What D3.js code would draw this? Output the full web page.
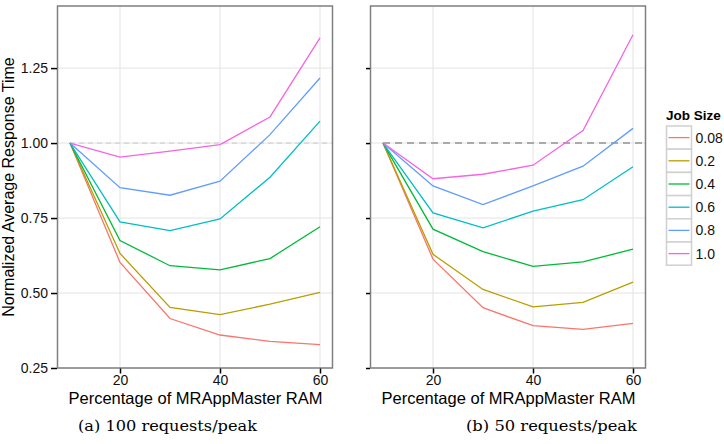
<!DOCTYPE html>
<html><head><meta charset="utf-8">
<script src="https://cdn.jsdelivr.net/npm/d3@7"></script>
<style>body{margin:0;background:#fff}svg{display:block}</style>
</head><body>
<svg id="c" width="724" height="444"></svg>
<script>
const xs = [10, 20, 30, 40, 50, 60];
const jobSizes = ["0.08", "0.2", "0.4", "0.6", "0.8", "1.0"];
const colors = ["#F8766D", "#B79F00", "#00BA38", "#00BFC4", "#619CFF", "#F564E3"];
// panel (a) 100 requests/peak
const a_008 = [1.0, 0.602, 0.415, 0.360, 0.339, 0.328];
const a_02  = [1.0, 0.632, 0.452, 0.428, 0.463, 0.502];
const a_04  = [1.0, 0.675, 0.591, 0.577, 0.615, 0.721];
const a_06  = [1.0, 0.737, 0.708, 0.747, 0.886, 1.073];
const a_08  = [1.0, 0.851, 0.826, 0.873, 1.028, 1.217];
const a_10  = [1.0, 0.953, 0.973, 0.995, 1.087, 1.351];
// panel (b) 50 requests/peak
const b_008 = [1.0, 0.613, 0.451, 0.391, 0.379, 0.399];
const b_02  = [1.0, 0.629, 0.512, 0.454, 0.469, 0.536];
const b_04  = [1.0, 0.713, 0.638, 0.589, 0.604, 0.646];
const b_06  = [1.0, 0.767, 0.717, 0.773, 0.811, 0.921];
const b_08  = [1.0, 0.857, 0.795, 0.857, 0.923, 1.049];
const b_10  = [1.0, 0.881, 0.896, 0.926, 1.042, 1.361];
const xTicks = [20, 40, 60];
const yTicks = [0.25, 0.50, 0.75, 1.00, 1.25];
const captions = ["(a) 100 requests/peak", "(b) 50 requests/peak"];
const xTitle = "Percentage of MRAppMaster RAM";
const yTitle = "Normalized Average Response Time";
const legendTitle = "Job Size";

const panels = [
  {series: [a_008, a_02, a_04, a_06, a_08, a_10], left: 57.5, caption: captions[0], capX: 167.5, capW: 179, labels: true, dashW: 1, dashC: "#c8c8c8", dash: "5,4"},
  {series: [b_008, b_02, b_04, b_06, b_08, b_10], left: 370.5, caption: captions[1], capX: 551.5, capW: 171, labels: false, dashW: 2, dashC: "#aaaaaa", dash: "7,5"}
];
const W = 275, topY = 6, bottomY = 368;
const svg = d3.select("#c");
const font = "'Liberation Sans', Arial, sans-serif";

const y = d3.scaleLinear().domain([0.25, 1.457]).range([bottomY, topY]);

panels.forEach(p => {
  const x = d3.scaleLinear().domain([7.5, 62.5]).range([p.left, p.left + W]);
  const g = svg.append("g");
  // gridlines
  g.selectAll(".gy").data(yTicks).join("line")
    .attr("x1", p.left).attr("x2", p.left + W)
    .attr("y1", d => y(d)).attr("y2", d => y(d))
    .attr("stroke", "#e3e3e3").attr("stroke-width", 1);
  g.selectAll(".gx").data(xTicks).join("line")
    .attr("x1", d => x(d)).attr("x2", d => x(d))
    .attr("y1", topY).attr("y2", bottomY)
    .attr("stroke", "#e3e3e3").attr("stroke-width", 1);
  // reference line
  g.append("line").attr("x1", x(10)).attr("x2", p.left + W)
    .attr("y1", y(1)).attr("y2", y(1))
    .attr("stroke", p.dashC).attr("stroke-width", p.dashW).attr("stroke-dasharray", p.dash);
  // lines
  const line = d3.line().x((d, i) => x(xs[i])).y(d => y(d));
  p.series.forEach((s, k) => {
    g.append("path").datum(s).attr("d", line).attr("fill", "none")
      .attr("stroke", colors[k]).attr("stroke-width", 1.3);
  });
  // border
  g.append("rect").attr("x", p.left).attr("y", topY).attr("width", W).attr("height", bottomY - topY)
    .attr("fill", "none").attr("stroke", "#7f7f7f").attr("stroke-width", 1.5);
  // x axis
  const xa = g.append("g").attr("transform", `translate(0,${bottomY + 0.5})`)
    .call(d3.axisBottom(x).tickValues(xTicks).tickSize(5).tickPadding(2).tickFormat(d3.format("d")));
  xa.select(".domain").remove();
  xa.selectAll("line").attr("stroke", "#000").attr("stroke-width", 1.5);
  xa.selectAll("text").attr("font-family", font).attr("font-size", 14).attr("fill", "#111");
  // y axis
  const ya = g.append("g").attr("transform", `translate(${p.left - 0.5},0)`)
    .call(d3.axisLeft(y).tickValues(yTicks).tickSize(p.labels ? 6 : 4).tickPadding(3)
      .tickFormat(p.labels ? d3.format(".2f") : () => ""));
  ya.select(".domain").remove();
  ya.selectAll("line").attr("stroke", "#000").attr("stroke-width", 1.5);
  ya.selectAll("text").attr("font-family", font).attr("font-size", 14).attr("fill", "#111");
  // x title
  g.append("text").attr("x", p.left + W / 2 + 0.5).attr("y", 404)
    .attr("text-anchor", "middle").attr("font-family", font).attr("font-size", 16.5)
    .attr("fill", "#000").text(xTitle);
  // caption
  g.append("text").attr("x", p.capX).attr("y", 431)
    .attr("text-anchor", "middle").attr("font-family", "'DejaVu Serif', 'Liberation Serif', serif")
    .attr("font-size", 15.5).attr("textLength", p.capW).attr("lengthAdjust", "spacingAndGlyphs")
    .attr("fill", "#000").text(p.caption);
});

// y title
svg.append("text").attr("transform", `translate(14,${(topY + bottomY) / 2}) rotate(-90)`)
  .attr("text-anchor", "middle").attr("font-family", font).attr("font-size", 16)
  .attr("fill", "#000").text(yTitle);

// legend
const lg = svg.append("g");
lg.append("text").attr("x", 666).attr("y", 120).attr("font-family", font)
  .attr("font-weight", "bold").attr("font-size", 13.5).text(legendTitle);
const keyH = 23.2, ly0 = 126, lx = 666.5;
jobSizes.forEach((js, k) => {
  const yy = ly0 + k * keyH;
  lg.append("rect").attr("x", lx).attr("y", yy).attr("width", 25).attr("height", keyH)
    .attr("fill", "#fff").attr("stroke", "#d0d0d0").attr("stroke-width", 1.5);
  lg.append("line").attr("x1", lx + 2).attr("x2", lx + 23).attr("y1", yy + keyH / 2).attr("y2", yy + keyH / 2)
    .attr("stroke", colors[k]).attr("stroke-width", 1.3);
  lg.append("text").attr("x", lx + 29).attr("y", yy + keyH / 2 + 5).attr("font-family", font)
    .attr("font-size", 14).attr("fill", "#111").text(js);
});
</script>
</body></html>
